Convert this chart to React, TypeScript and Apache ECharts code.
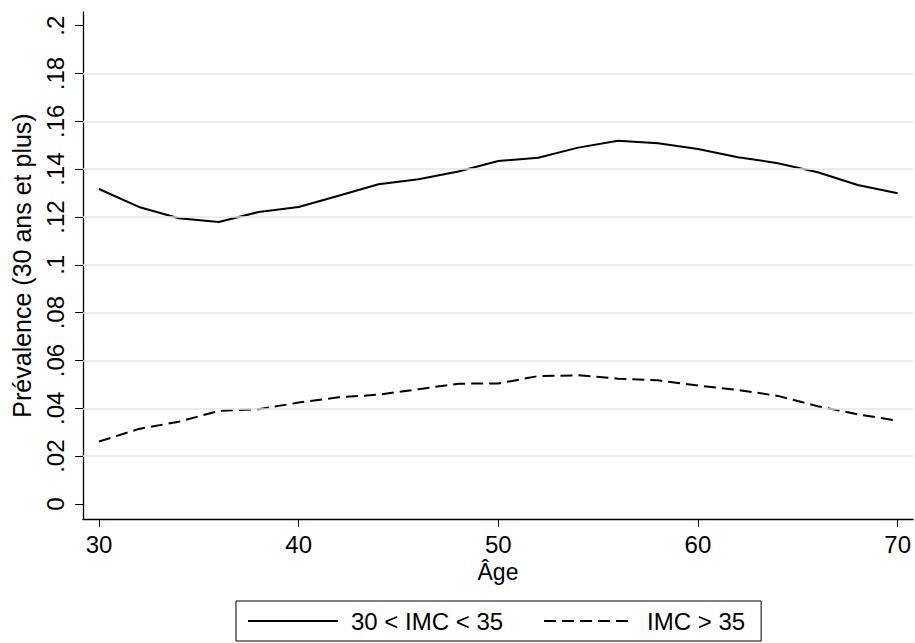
import React, { useEffect, useRef } from "react";
import * as echarts from "echarts";

const ages = [30, 32, 34, 36, 38, 40, 42, 44, 46, 48, 50, 52, 54, 56, 58, 60, 62, 64, 66, 68, 70];
const seriesNames = ["30 < IMC < 35", "IMC > 35"];
const imc30to35 = [0.1317, 0.1242, 0.1195, 0.1179, 0.1221, 0.1242, 0.1289, 0.1337, 0.1358, 0.139, 0.1434, 0.1448, 0.149, 0.1519, 0.1508, 0.1484, 0.145, 0.1425, 0.1387, 0.1334, 0.1299];
const imcOver35 = [0.0261, 0.0314, 0.0344, 0.0389, 0.0396, 0.0424, 0.0446, 0.0457, 0.048, 0.0503, 0.0504, 0.0535, 0.0538, 0.0524, 0.0517, 0.0495, 0.0477, 0.0452, 0.0409, 0.0375, 0.0348];
const xTickValues = [30, 40, 50, 60, 70];
const yTickValues = [0, 0.02, 0.04, 0.06, 0.08, 0.1, 0.12, 0.14, 0.16, 0.18, 0.2];
const yTickLabels = ["0", ".02", ".04", ".06", ".08", ".1", ".12", ".14", ".16", ".18", ".2"];
const yGridValues = [0.02, 0.04, 0.06, 0.08, 0.1, 0.12, 0.14, 0.16, 0.18];
const xTitle = "Âge";
const yTitle = "Prévalence (30 ans et plus)";

const FONT = "'Liberation Sans', Arial, Helvetica, sans-serif";

export default function App() {
  const ref = useRef<HTMLDivElement>(null);
  useEffect(() => {
    if (!ref.current) return;
    const chart = echarts.init(ref.current, undefined, { renderer: "svg" });
    const pairs = (ys: number[]) => ages.map((a, i) => [a, ys[i]]);
    chart.setOption({
      animation: false,
      backgroundColor: "#fff",
      textStyle: { fontFamily: FONT, color: "#000" },
      grid: { left: 83, right: 2, top: 12, bottom: 124, containLabel: false },
      xAxis: {
        type: "value",
        min: 29.2,
        max: 70.77,
        name: xTitle,
        nameLocation: "middle",
        nameGap: 31,
        nameTextStyle: { fontSize: 23, color: "#000", fontFamily: FONT },
        axisLine: { show: true, onZero: false, lineStyle: { color: "#000", width: 1.3 } },
        axisTick: { show: true, customValues: xTickValues, length: 8, lineStyle: { color: "#000", width: 1 } },
        axisLabel: { customValues: xTickValues, fontSize: 24, color: "#000", margin: 13, fontFamily: FONT },
        splitLine: { show: false },
      },
      yAxis: {
        type: "value",
        min: -0.00627,
        max: 0.2057,
        name: yTitle,
        nameLocation: "middle",
        nameRotate: 90,
        nameGap: 49,
        nameTextStyle: { fontSize: 25, color: "#000", fontFamily: FONT },
        axisLine: { show: true, onZero: false, lineStyle: { color: "#000", width: 1.3 } },
        axisTick: { show: true, customValues: yTickValues, length: 8, lineStyle: { color: "#000", width: 1 } },
        axisLabel: {
          customValues: yTickValues,
          rotate: 90,
          fontSize: 24,
          color: "#000",
          margin: 16,
          fontFamily: FONT,
          formatter: (v: number) => {
            const i = yTickValues.findIndex((t) => Math.abs(t - v) < 1e-9);
            return i >= 0 ? yTickLabels[i] : "";
          },
        },
        splitLine: { show: false },
      },
      legend: {
        data: seriesNames,
        left: 236,
        top: 601,
        orient: "horizontal",
        itemWidth: 90,
        itemHeight: 14,
        itemGap: 40,
        padding: [8, 16, 8, 11],
        borderColor: "#000",
        borderWidth: 1,
        borderRadius: 0,
        itemStyle: { color: "rgba(0,0,0,0)", borderColor: "rgba(0,0,0,0)", borderWidth: 0 },
        textStyle: { fontSize: 24, color: "#000", fontFamily: FONT, padding: [0, 0, 0, 8] },
      },
      series: [
        {
          name: "grid",
          type: "line",
          data: [],
          z: 1,
          silent: true,
          markLine: {
            silent: true,
            symbol: ["none", "none"],
            label: { show: false },
            lineStyle: { color: "#e6e6e6", width: 1.5, type: "solid" },
            data: yGridValues.map((v) => ({ yAxis: v })),
          },
        },
        {
          name: seriesNames[0],
          type: "line",
          z: 3,
          data: pairs(imc30to35),
          showSymbol: false,
          symbol: "none",
          lineStyle: { color: "#000", width: 2, type: "solid" },
          itemStyle: { color: "#000" },
        },
        {
          name: seriesNames[1],
          type: "line",
          z: 3,
          data: pairs(imcOver35),
          showSymbol: false,
          symbol: "none",
          lineStyle: { color: "#000", width: 2, type: [12, 6] },
          itemStyle: { color: "#000" },
        },
      ],
    });
    return () => chart.dispose();
  }, []);
  return (
    <div
      ref={ref}
      style={{ position: "absolute", left: 0, top: 0, width: 915, height: 643, background: "#fff" }}
    />
  );
}
